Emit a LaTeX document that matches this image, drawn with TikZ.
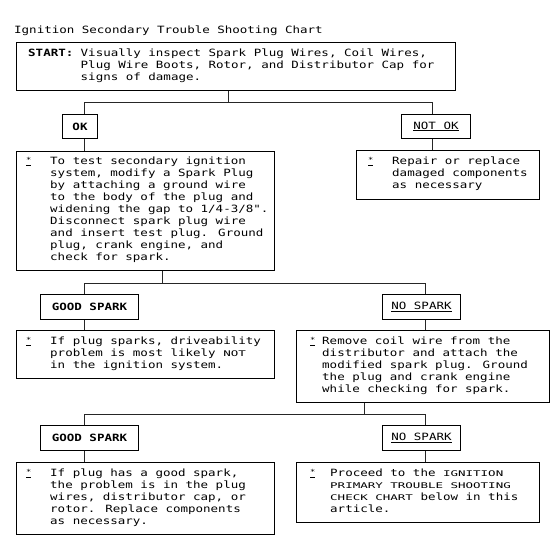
\documentclass[tikz,border=0pt]{standalone}
\usepackage{fontspec}
\usepackage{graphicx}
\newfontfamily\mono[FakeStretch=1.25]{DejaVu Sans Mono}
\newcommand\smc[1]{\scalebox{1}[0.78]{#1}}
\newcommand\bul{\underline{\raisebox{1.5pt}{\fontsize{7}{7}\selectfont *}}}
\newcommand\ml[1]{\vtop{\baselineskip=12pt\lineskiplimit=-20pt\halign{##\hfil\cr #1\crcr}}}
\begin{document}
\begin{tikzpicture}[x=1pt,y=-1pt,
  every node/.style={font=\mono\fontsize{10}{12}\selectfont},
  box/.style={draw, line width=1pt, rectangle, inner sep=0pt, anchor=north west},
  txt/.style={anchor=base west, inner sep=0pt},
  conn/.style={line width=1pt, draw=black!85}]
\useasboundingbox (0,0) rectangle (552,555);
\fill[white] (0,0) rectangle (552,555);

% title
\node[txt] (title) at (14,33) {Ignition Secondary Trouble Shooting Chart};

% start box
\node[box, minimum width=439pt, minimum height=48pt] (start) at (16,42) {};
\node[txt] (startlbl) at (28,56) {\textbf{START:}};
\node[txt] (starttxt) at (80.5,56) {\ml{Visually inspect Spark Plug Wires, Coil Wires,\cr
Plug Wire Boots, Rotor, and Distributor Cap for\cr
signs of damage.}};

% level 1 decisions
\node[box, minimum width=35pt, minimum height=24pt] (ok) at (62,114) {\textbf{OK}};
\node[box, minimum width=69pt, minimum height=24pt] (notok) at (401,114) {\underline{NOT OK}};

% box 3
\node[box, minimum width=258pt, minimum height=119pt] (b3) at (16,151) {};
\node[txt] (b3b) at (26,164) {\bul};
\node[txt] (b3t) at (50,164) {\ml{To test secondary ignition\cr
system, modify a Spark Plug\cr
by attaching a ground wire\cr
to the body of the plug and\cr
widening the gap to 1/4-3/8".\cr
Disconnect spark plug wire\cr
and insert test plug. Ground\cr
plug, crank engine, and\cr
check for spark.}};

% box 4
\node[box, minimum width=183pt, minimum height=49pt] (b4) at (356,150) {};
\node[txt] (b4b) at (368,164) {\bul};
\node[txt] (b4t) at (392,164) {\ml{Repair or replace\cr
damaged components\cr
as necessary}};

% level 2 decisions
\node[box, minimum width=98pt, minimum height=25pt] (gs1) at (40,294) {\textbf{GOOD SPARK}};
\node[box, minimum width=78pt, minimum height=25pt] (ns1) at (382,294) {\underline{NO SPARK}};

% box 5
\node[box, minimum width=258pt, minimum height=48pt] (b5) at (16,330) {};
\node[txt] (b5b) at (26,344) {\bul};
\node[txt] (b5t) at (50,344) {\ml{If plug sparks, driveability\cr
problem is most likely \smc{NOT}\cr
in the ignition system.}};

% box 6
\node[box, minimum width=253pt, minimum height=72pt] (b6) at (296,330) {};
\node[txt] (b6b) at (310,344) {\bul};
\node[txt] (b6t) at (322,344) {\ml{Remove coil wire from the\cr
distributor and attach the\cr
modified spark plug. Ground\cr
the plug and crank engine\cr
while checking for spark.}};

% level 3 decisions
\node[box, minimum width=98pt, minimum height=25pt] (gs2) at (40,425) {\textbf{GOOD SPARK}};
\node[box, minimum width=78pt, minimum height=25pt] (ns2) at (382,425) {\underline{NO SPARK}};

% box 7
\node[box, minimum width=258pt, minimum height=72pt] (b7) at (16,462) {};
\node[txt] (b7b) at (26,476) {\bul};
\node[txt] (b7t) at (50,476) {\ml{If plug has a good spark,\cr
the problem is in the plug\cr
wires, distributor cap, or\cr
rotor.  Replace components\cr
as necessary.}};

% box 8
\node[box, minimum width=243pt, minimum height=60pt] (b8) at (296,462) {};
\node[txt] (b8b) at (310,476) {\bul};
\node[txt] (b8t) at (330,476) {\ml{Proceed to the \smc{IGNITION}\cr
\smc{PRIMARY TROUBLE SHOOTING}\cr
\smc{CHECK CHART} below in this\cr
article.}};

% junction coordinates
\coordinate (xl) at (84,0);
\coordinate (xr1) at (432,0);
\coordinate (xr2) at (425,0);
\coordinate (j1) at (228,102);
\coordinate (j2) at (162,283);
\coordinate (j3) at (364,414);

% connectors
\draw[conn] (start.south -| j1) -- (j1);
\draw[conn] (ok.north -| xl) -- (xl |- j1) -- (xr1 |- j1) -- (notok.north -| xr1);
\draw[conn] (ok.south -| xl) -- (b3.north -| xl);
\draw[conn] (notok.south -| xr1) -- (b4.north -| xr1);

\draw[conn] (b3.south -| j2) -- (j2);
\draw[conn] (gs1.north -| xl) -- (xl |- j2) -- (xr2 |- j2) -- (ns1.north -| xr2);
\draw[conn] (gs1.south -| xl) -- (b5.north -| xl);
\draw[conn] (ns1.south -| xr2) -- (b6.north -| xr2);

\draw[conn] (b6.south -| j3) -- (j3);
\draw[conn] (gs2.north -| xl) -- (xl |- j3) -- (xr2 |- j3) -- (ns2.north -| xr2);
\draw[conn] (gs2.south -| xl) -- (b7.north -| xl);
\draw[conn] (ns2.south -| xr2) -- (b8.north -| xr2);
\end{tikzpicture}
\end{document}
